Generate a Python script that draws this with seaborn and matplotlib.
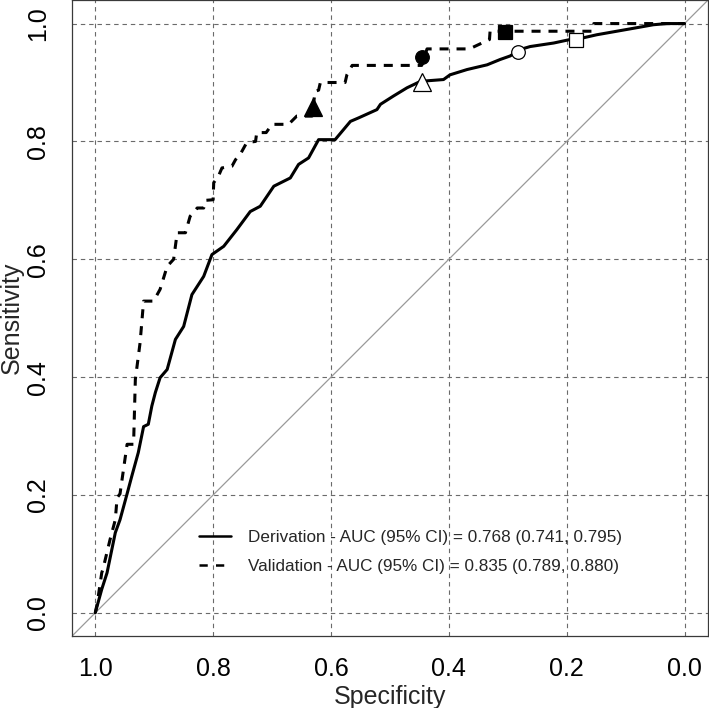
import matplotlib
matplotlib.use("Agg")
import matplotlib.pyplot as plt
import seaborn as sns
import pandas as pd
from matplotlib.lines import Line2D

# ---- data ----
deriv_spec = [1.000, 0.997, 0.989, 0.980, 0.966, 0.958, 0.946, 0.938, 0.927, 0.918,
              0.910, 0.904, 0.898, 0.890, 0.878, 0.864, 0.850, 0.836, 0.816, 0.802,
              0.782, 0.760, 0.737, 0.720, 0.697, 0.669, 0.655, 0.638, 0.621, 0.593,
              0.567, 0.553, 0.522, 0.516, 0.494, 0.471, 0.448, 0.409, 0.398, 0.369,
              0.335, 0.313, 0.296, 0.279, 0.262, 0.222, 0.194, 0.171, 0.149, 0.115,
              0.081, 0.053, 0.030, 0.000]
deriv_sens = [0.000, 0.011, 0.040, 0.068, 0.136, 0.158, 0.202, 0.232, 0.272, 0.316,
              0.320, 0.351, 0.374, 0.399, 0.413, 0.464, 0.486, 0.540, 0.571, 0.608,
              0.622, 0.650, 0.681, 0.690, 0.724, 0.738, 0.761, 0.772, 0.803, 0.803,
              0.834, 0.840, 0.854, 0.863, 0.877, 0.891, 0.902, 0.905, 0.913, 0.922,
              0.930, 0.939, 0.945, 0.956, 0.961, 0.967, 0.973, 0.976, 0.981, 0.987,
              0.993, 0.998, 1.000, 1.000]

valid_spec = [1.000, 0.997, 0.989, 0.987, 0.975, 0.966, 0.963, 0.958, 0.946, 0.935,
              0.932, 0.924, 0.918, 0.901, 0.890, 0.878, 0.867, 0.861, 0.847, 0.839,
              0.827, 0.816, 0.813, 0.800, 0.799, 0.791, 0.785, 0.768, 0.762, 0.754,
              0.743, 0.728, 0.726, 0.710, 0.700, 0.672, 0.658, 0.632, 0.627, 0.621,
              0.618, 0.576, 0.573, 0.564, 0.446, 0.437, 0.365, 0.331, 0.330, 0.157,
              0.154, 0.000]
valid_sens = [0.000, 0.014, 0.068, 0.074, 0.124, 0.158, 0.195, 0.202, 0.286, 0.286,
              0.396, 0.458, 0.529, 0.529, 0.549, 0.588, 0.600, 0.645, 0.645, 0.673,
              0.687, 0.687, 0.700, 0.701, 0.730, 0.741, 0.755, 0.758, 0.769, 0.778,
              0.798, 0.800, 0.815, 0.815, 0.829, 0.829, 0.843, 0.843, 0.885, 0.887,
              0.900, 0.900, 0.913, 0.929, 0.929, 0.957, 0.957, 0.973, 0.987, 0.987,
              1.000, 1.000]

# threshold points (markers)
pt_spec = [0.631, 0.446, 0.305, 0.446, 0.282, 0.185]
pt_sens = [0.859, 0.943, 0.986, 0.900, 0.951, 0.972]
pt_marker = ["^", "o", "s", "^", "o", "s"]
pt_filled = [True, True, True, False, False, False]

ticks = [0.0, 0.2, 0.4, 0.6, 0.8, 1.0]
tick_labels = ["0.0", "0.2", "0.4", "0.6", "0.8", "1.0"]
legend_labels = ["Derivation - AUC (95% CI) = 0.768 (0.741, 0.795)",
                 "Validation - AUC (95% CI) = 0.835 (0.789, 0.880)"]

# ---- figure ----
sns.set_style("white")
plt.rcParams["font.family"] = ["Liberation Sans", "DejaVu Sans"]

fig = plt.figure(figsize=(7.09, 7.08), dpi=100)
ax = fig.add_axes([71.7 / 709, 71.6 / 708, 636.4 / 709, 636.4 / 708])

ax.set_xlim(1.04, -0.04)
ax.set_ylim(-0.04, 1.04)

# grid
ax.set_xticks(ticks)
ax.set_yticks(ticks)
ax.grid(True, color="#6a6a6a", linewidth=0.8, linestyle=(0, (4, 3.5)), zorder=0)
ax.set_axisbelow(True)

# diagonal reference line
ax.axline((1.0, 0.0), (0.0, 1.0), color="#9a9a9a", linewidth=0.9, zorder=1)

df_d = pd.DataFrame({"spec": deriv_spec, "sens": deriv_sens})
df_v = pd.DataFrame({"spec": valid_spec, "sens": valid_sens})

sns.lineplot(data=df_d, x="spec", y="sens", sort=False, estimator=None,
             color="black", linewidth=2.2, ax=ax, zorder=3)
sns.lineplot(data=df_v, x="spec", y="sens", sort=False, estimator=None,
             color="black", linewidth=2.2, ax=ax, zorder=3)
ax.lines[-1].set_dashes((2.95, 2.6))

for sx, sy, mk, filled in zip(pt_spec, pt_sens, pt_marker, pt_filled):
    size = 12.5 if mk == "^" else 9.8
    ax.plot([sx], [sy], marker=mk, markersize=size, linestyle="none",
            markerfacecolor="black" if filled else "white",
            markeredgecolor="black", markeredgewidth=0.9, zorder=4)

# axes styling
for s in ax.spines.values():
    s.set_visible(True)
    s.set_color("#3a3a3a")
    s.set_linewidth(0.9)

ax.set_xticklabels(tick_labels)
ax.set_yticklabels(tick_labels, rotation=90, va="center")
ax.tick_params(axis="both", which="both", direction="out", length=7.5, width=0.9,
               color="#3a3a3a", labelsize=18, labelcolor="black")
ax.tick_params(axis="x", pad=7)
ax.tick_params(axis="y", pad=8)

ax.set_xlabel("Specificity", fontsize=18, labelpad=3)
ax.set_ylabel("Sensitivity", fontsize=18, labelpad=2)

handles = [Line2D([0], [0], color="black", linewidth=1.8),
           Line2D([0], [0], color="black", linewidth=1.8, dashes=(3.3, 3.3))]
leg = ax.legend(handles, legend_labels, loc="upper left",
                bbox_to_anchor=(127 / 636.4, 1 - 530 / 636.4),
                frameon=False, fontsize=12.3, handlelength=1.9, handletextpad=1.0,
                labelspacing=0.82, borderaxespad=0, borderpad=0)

fig.savefig("out.png", dpi=100)
